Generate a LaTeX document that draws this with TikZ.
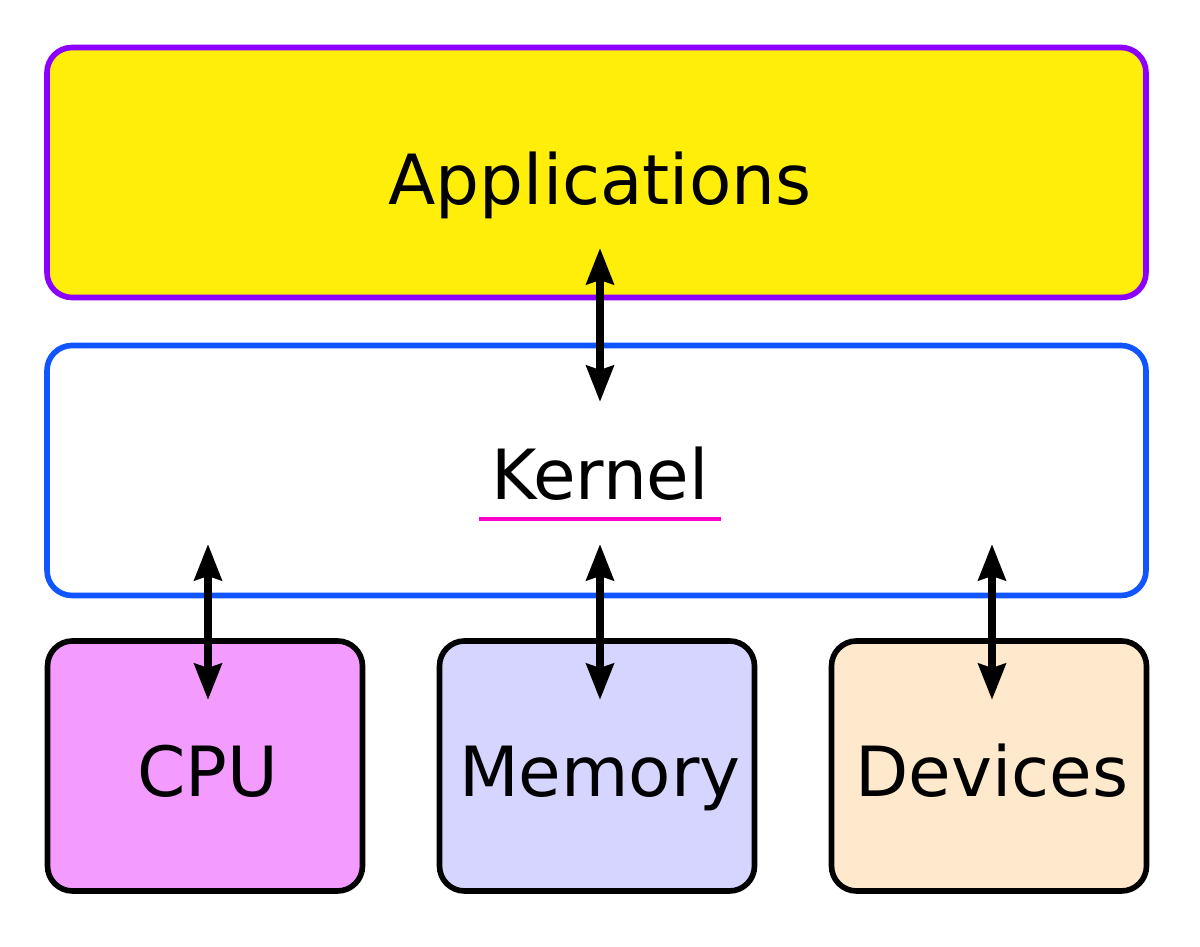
\documentclass[tikz,border=0pt]{standalone}
\usepackage{fontspec}
\setmainfont{DejaVu Sans}
\usetikzlibrary{arrows.meta,calc}

\definecolor{appyellow}{HTML}{FFEE0A}
\definecolor{appviolet}{HTML}{8B00FF}
\definecolor{kernblue}{HTML}{1155FF}
\definecolor{cpupink}{HTML}{F39BFF}
\definecolor{memblue}{HTML}{D5D5FF}
\definecolor{devpeach}{HTML}{FFE9CC}
\definecolor{ulmagenta}{HTML}{FF00CC}

\tikzset{
  layer/.style={rounded corners=0.25cm, line width=1.6pt, inner sep=0pt,
    minimum width=10.99cm, minimum height=2.5cm},
  unit/.style={rounded corners=0.25cm, line width=1.6pt, inner sep=0pt, draw=black,
    minimum width=3.15cm, minimum height=2.5cm},
  lbl/.style={font=\fontsize{19.7}{23}\selectfont, anchor=base, inner sep=0pt},
  link/.style={line width=2.2pt, {Stealth[length=3.6mm,width=2.7mm,inset=0.4mm]}-{Stealth[length=3.6mm,width=2.7mm,inset=0.4mm]}}
}

\begin{document}
\begin{tikzpicture}

\useasboundingbox (0,0) rectangle (12,9.47);

% layers
\node[layer, draw=appviolet, fill=appyellow] (apps) at (5.965,7.745) {};
\node[layer, draw=kernblue, fill=white] (kernel) at (5.965,4.765) {};

% hardware
\node[unit, fill=cpupink] (cpu) at (2.05,1.81) {};
\node[unit, fill=memblue] (mem) at (5.97,1.81) {};
\node[unit, fill=devpeach] (dev) at (9.89,1.81) {};

% labels
\node[lbl] (appstext) at (6,7.42) {Applications};
\node[lbl, inner xsep=0.12cm, inner ysep=0.17cm] (kerntext) at (6,4.47) {Kernel};
\draw[ulmagenta, line width=1.1pt] (kerntext.south west) -- (kerntext.south east);
\node[lbl] (cputext) at (2.08,1.50) {CPU};
\node[lbl] (memtext) at (6,1.50) {Memory};
\node[lbl] (devtext) at (9.92,1.50) {Devices};

% arrow ends
\coordinate (apps-a) at (6,6.99);
\coordinate (kern-a) at (6,5.45);
\coordinate (kern-c) at (2.08,4.03);
\coordinate (kern-m) at (6,4.03);
\coordinate (kern-d) at (9.92,4.03);
\coordinate (cpu-a) at (2.08,2.47);
\coordinate (mem-a) at (6,2.47);
\coordinate (dev-a) at (9.92,2.47);

\draw[link] (apps-a) -- (kern-a);
\draw[link] (kern-c) -- (cpu-a);
\draw[link] (kern-m) -- (mem-a);
\draw[link] (kern-d) -- (dev-a);

\end{tikzpicture}
\end{document}
